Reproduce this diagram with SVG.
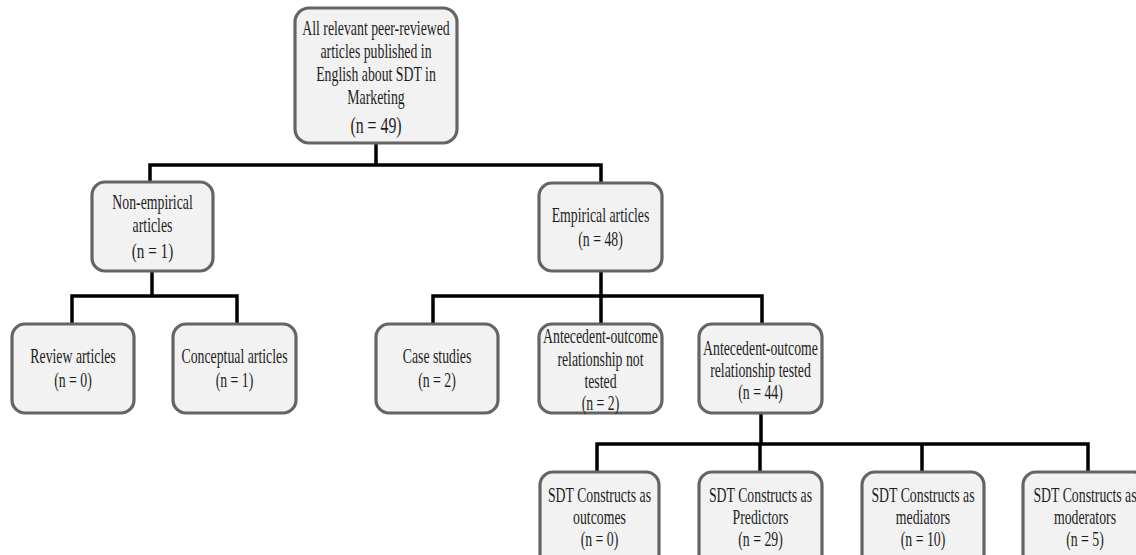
<svg xmlns="http://www.w3.org/2000/svg" width="1136" height="555" viewBox="0 0 1136 555">
<style>
.box{fill:#f2f2f2;stroke:#646464;stroke-width:3.2}
.t{font-family:"Liberation Serif","Times New Roman",serif;font-size:20px;fill:#1e1e1e;text-anchor:middle}
.conn path{fill:none;stroke:#000;stroke-width:3.5;stroke-linejoin:miter}
</style>
<rect width="1136" height="555" fill="#fff"/>
<g id="connectors" class="conn">
<path d="M376 143 V165"/>
<path d="M150 182 V165 H601 V183"/>
<path d="M152 271 V296"/>
<path d="M72 324 V296 H237 V324"/>
<path d="M601 271 V296"/>
<path d="M433 324 V296 H762 V324"/>
<path d="M601 296 V324"/>
<path d="M761 413 V444"/>
<path d="M597 472 V444 H1088 V472"/>
<path d="M760 444 V472"/>
<path d="M922 444 V472"/>
</g>
<g id="root">
<rect class="box" x="295" y="8" width="162" height="135" rx="14"/>
<g transform="translate(376 0) scale(0.69 1)" class="t">
<text x="0" y="35">All relevant peer-reviewed</text>
<text x="0" y="58">articles published in</text>
<text x="0" y="81">English about SDT in</text>
<text x="0" y="104">Marketing</text>
<text x="0" y="133" style="font-size:23px">(n = 49)</text>
</g>
</g>
<g id="nonempirical">
<rect class="box" x="92" y="182" width="121" height="89" rx="13"/>
<g transform="translate(152.5 0) scale(0.69 1)" class="t">
<text x="0" y="209">Non-empirical</text>
<text x="0" y="232">articles</text>
<text x="0" y="258" style="font-size:22px">(n = 1)</text>
</g>
</g>
<g id="empirical">
<rect class="box" x="539" y="183" width="123" height="88" rx="13"/>
<g transform="translate(600.5 0) scale(0.69 1)" class="t">
<text x="0" y="222">Empirical articles</text>
<text x="0" y="246">(n = 48)</text>
</g>
</g>
<g id="review">
<rect class="box" x="12" y="324" width="122" height="89" rx="13"/>
<g transform="translate(73 0) scale(0.69 1)" class="t">
<text x="0" y="363">Review articles</text>
<text x="0" y="387">(n = 0)</text>
</g>
</g>
<g id="conceptual">
<rect class="box" x="173" y="324" width="123" height="89" rx="13"/>
<g transform="translate(234.5 0) scale(0.69 1)" class="t">
<text x="0" y="363">Conceptual articles</text>
<text x="0" y="387">(n = 1)</text>
</g>
</g>
<g id="case">
<rect class="box" x="376" y="324" width="122" height="89" rx="13"/>
<g transform="translate(437 0) scale(0.69 1)" class="t">
<text x="0" y="363">Case studies</text>
<text x="0" y="387">(n = 2)</text>
</g>
</g>
<g id="nottested">
<rect class="box" x="539" y="324" width="123" height="89" rx="13"/>
<g transform="translate(600.5 0) scale(0.69 1)" class="t">
<text x="0" y="343">Antecedent-outcome</text>
<text x="0" y="366">relationship not</text>
<text x="0" y="388">tested</text>
<text x="0" y="410">(n = 2)</text>
</g>
</g>
<g id="tested">
<rect class="box" x="699" y="324" width="123" height="89" rx="13"/>
<g transform="translate(760.5 0) scale(0.69 1)" class="t">
<text x="0" y="355">Antecedent-outcome</text>
<text x="0" y="377">relationship tested</text>
<text x="0" y="399">(n = 44)</text>
</g>
</g>
<g id="outcomes">
<rect class="box" x="540" y="472" width="119" height="96" rx="13"/>
<g transform="translate(599.5 0) scale(0.69 1)" class="t">
<text x="0" y="502">SDT Constructs as</text>
<text x="0" y="524">outcomes</text>
<text x="0" y="546">(n = 0)</text>
</g>
</g>
<g id="predictors">
<rect class="box" x="699" y="472" width="123" height="96" rx="13"/>
<g transform="translate(760.5 0) scale(0.69 1)" class="t">
<text x="0" y="502">SDT Constructs as</text>
<text x="0" y="524">Predictors</text>
<text x="0" y="546">(n = 29)</text>
</g>
</g>
<g id="mediators">
<rect class="box" x="862" y="472" width="122" height="96" rx="13"/>
<g transform="translate(923 0) scale(0.69 1)" class="t">
<text x="0" y="502">SDT Constructs as</text>
<text x="0" y="524">mediators</text>
<text x="0" y="546">(n = 10)</text>
</g>
</g>
<g id="moderators">
<rect class="box" x="1023" y="472" width="124" height="96" rx="13"/>
<g transform="translate(1085 0) scale(0.69 1)" class="t">
<text x="0" y="502">SDT Constructs as</text>
<text x="0" y="524">moderators</text>
<text x="0" y="546">(n = 5)</text>
</g>
</g>
</svg>
